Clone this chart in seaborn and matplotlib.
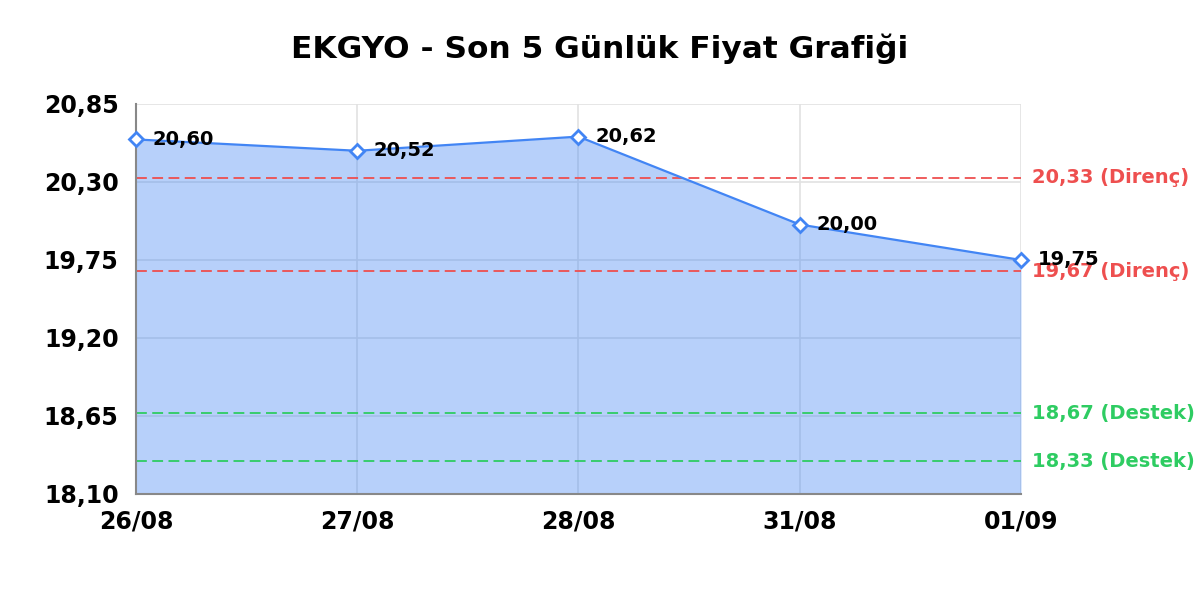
import seaborn as sns
from matplotlib import pyplot as plt
import pandas as pd

sns.set_style("white")
plt.rcParams['font.family'] = ['DejaVu Sans']
plt.rcParams['text.color'] = 'black'
plt.rcParams['xtick.color'] = 'black'
plt.rcParams['ytick.color'] = 'black'

# Data
dates = ['26/08', '27/08', '28/08', '31/08', '01/09']
prices = [20.60, 20.52, 20.62, 20.00, 19.75]
resistance = [20.33, 19.67]
support = [18.67, 18.33]
y_ticks = [18.10, 18.65, 19.20, 19.75, 20.30, 20.85]

line_color = '#4285f4'
red = '#ee4f4f'
green = '#2ecc62'

df = pd.DataFrame({'pos': range(len(dates)), 'price': prices})

fig = plt.figure(figsize=(12, 6), dpi=100)
ax = fig.add_axes([0.1133, 0.1767, 0.7375, 0.65])

ax.grid(True, color='#e2e2e2', linewidth=1.2, zorder=0)
ax.set_axisbelow(True)

ax.fill_between(df['pos'], df['price'], y_ticks[0], color=line_color, alpha=0.38, linewidth=0, zorder=1)
sns.lineplot(data=df, x='pos', y='price', ax=ax, color=line_color, linewidth=1.6,
             marker='D', markersize=7, markerfacecolor='white', markeredgecolor=line_color,
             markeredgewidth=2, zorder=3)
# markers on the x limits should not be cut in half
for line in ax.lines:
    line.set_clip_on(False)

for x, y in zip(df['pos'], df['price']):
    ax.annotate(f'{y:.2f}'.replace('.', ','), (x, y), xytext=(12, 0), textcoords='offset points',
                va='center', ha='left', fontsize=14, fontweight='bold', color='black', zorder=4)

for lvl in resistance:
    ax.axhline(lvl, color=red, linestyle=(0, (6, 3)), linewidth=1.3, zorder=2)
    ax.text(1.013, lvl, f'{lvl:.2f}'.replace('.', ',') + ' (Direnç)', transform=ax.get_yaxis_transform(),
            va='center', ha='left', fontsize=14, fontweight='bold', color=red)
for lvl in support:
    ax.axhline(lvl, color=green, linestyle=(0, (6, 3)), linewidth=1.3, zorder=2)
    ax.text(1.013, lvl, f'{lvl:.2f}'.replace('.', ',') + ' (Destek)', transform=ax.get_yaxis_transform(),
            va='center', ha='left', fontsize=14, fontweight='bold', color=green)

ax.set_xlim(0, len(dates) - 1)
ax.set_ylim(y_ticks[0], y_ticks[-1])
ax.set_xticks(range(len(dates)))
ax.set_xticklabels(dates, fontsize=17, fontweight='bold')
ax.set_yticks(y_ticks)
ax.set_yticklabels([f'{t:.2f}'.replace('.', ',') for t in y_ticks], fontsize=17, fontweight='bold')
ax.tick_params(axis='x', length=0, pad=11)
ax.tick_params(axis='y', length=0, pad=12.5)
ax.set_xlabel('')
ax.set_ylabel('')

for side in ['top', 'right']:
    ax.spines[side].set_visible(False)
for side in ['left', 'bottom']:
    ax.spines[side].set_color('#888888')
    ax.spines[side].set_linewidth(1.5)

fig.suptitle('EKGYO - Son 5 Günlük Fiyat Grafiği', fontsize=22.5, fontweight='bold', y=0.945)

fig.savefig('out.png', dpi=100)
